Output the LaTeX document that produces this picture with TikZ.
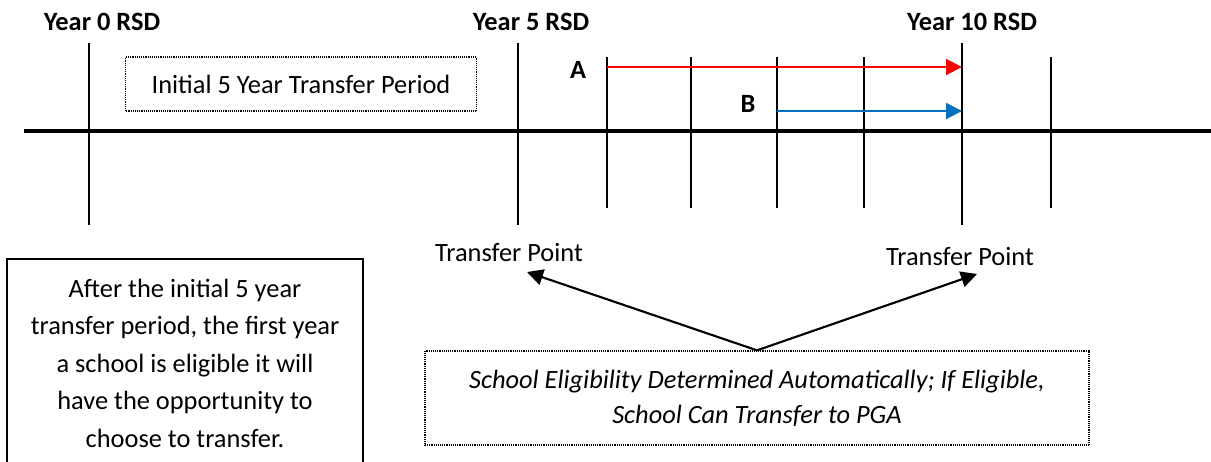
\documentclass[tikz,border=0pt]{standalone}
\usepackage{fontspec}
\setmainfont{Carlito}
\usepackage{tikz}
\usetikzlibrary{arrows.meta}
\tikzset{>={Triangle[length=12pt,width=12pt]}}
\definecolor{pathA}{HTML}{FF0000}
\definecolor{pathB}{HTML}{0070C0}
\newcommand{\bodysize}{\fontsize{19.8}{28.1}\selectfont}
\tikzset{
  year/.style={font=\bodysize\bfseries},
  plain/.style={font=\bodysize},
  dotbox/.style={draw, line width=1pt, dash pattern=on 0.7pt off 0.7pt, inner sep=0pt},
}

\begin{document}
\begin{tikzpicture}[x=0.75pt, y=-0.75pt]
    \useasboundingbox (0,0) rectangle (1211,461);
    % time axis and year ticks
    \draw[line width=2.6pt] (24,131) -- (1211,131);
    \foreach \x in {89,518,962}
        \draw[line width=2.2pt] (\x,43) -- (\x,225);
    \foreach \x in {607,691,777,864,1051}
        \draw[line width=1pt] (\x,57) -- (\x,208);
    \node[year] (y0) at (102,22) {Year 0 RSD};
    \node[year] (y5) at (531,22) {Year 5 RSD};
    \node[year] (y10) at (972,22) {Year 10 RSD};
    \node[plain, dotbox, minimum width=263pt, minimum height=40.5pt] (init) at (301,84) {Initial 5 Year Transfer Period};
    % the two schools
    \node[year] (A) at (578,70) {A};
    \node[year] (B) at (748,104) {B};
    \coordinate (a0) at (607,67);
    \coordinate (a1) at (962,67);
    \coordinate (b0) at (777,111);
    \coordinate (b1) at (962,111);
    \draw[->, line width=1.5pt, pathA] (a0) -- (a1);
    \draw[->, line width=1.5pt, pathB] (b0) -- (b1);
    % transfer points
    \node[plain] (tp1) at (509,253) {Transfer Point};
    \node[plain] (tp2) at (960,257) {Transfer Point};
    \node[dotbox, font=\fontsize{19.8}{26.3}\selectfont\itshape, align=center, minimum width=498pt, minimum height=70.5pt] (elig) at (757,398)
        {School Eligibility Determined Automatically; If Eligible,\\ School Can Transfer to PGA};
    \coordinate (tip1) at (527,272);
    \coordinate (tip2) at (977,274);
    \draw[->, line width=1.6pt] (elig.north) -- (tip1);
    \draw[->, line width=1.6pt] (elig.north) -- (tip2);
    \node[plain, draw, line width=1pt, align=center, minimum width=267pt, minimum height=156pt] (note) at (185,363)
        {After the initial 5 year\\ transfer period, the first year\\ a school is eligible it will\\ have the opportunity to\\ choose to transfer.};
\end{tikzpicture}
\end{document}
